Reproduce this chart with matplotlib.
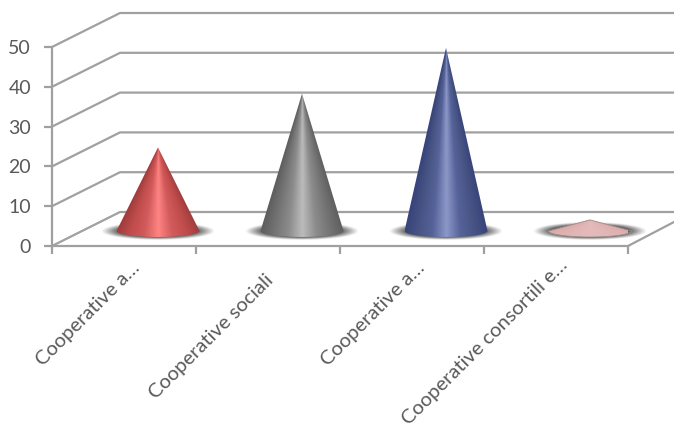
import numpy as np
import matplotlib
matplotlib.use("Agg")
import matplotlib.pyplot as plt
from matplotlib.colors import LinearSegmentedColormap
from matplotlib.patches import Polygon
from matplotlib.transforms import ScaledTranslation

categories = ["Cooperative a…", "Cooperative sociali", "Cooperative a…", "Cooperative consortili e…"]
values = [21, 34.5, 46, 2.8]
y_ticks = [0, 10, 20, 30, 40, 50]
ramps = [
    ["#a03c3c", "#c04c4c", "#d25a5a", "#ff8484", "#d25a5a", "#c04c4c", "#a03c3c"],
    ["#5e5e5e", "#747474", "#8c8c8c", "#bcbcbc", "#8c8c8c", "#747474", "#5e5e5e"],
    ["#38447a", "#475484", "#56639a", "#8c98c8", "#56639a", "#475484", "#38447a"],
    ["#d8a8a8", "#deb0b0", "#e2b6b6", "#e4baba", "#e2b6b6", "#deb0b0", "#d8a8a8"],
]
label_shift_px = [(7, 9), (-3, -3), (4, 9), (3, 12)]

W, H = 674, 429
L, R, T, B = 52, 628, 47, 246
plt.rcParams["font.family"] = ["Lato", "DejaVu Sans"]
fig = plt.figure(figsize=(W / 100, H / 100), dpi=100)
ax = fig.add_axes([L / W, 1 - B / H, (R - L) / W, (B - T) / H])
ax.set_xlim(0, 4)
ax.set_ylim(0, 50)
ax.patch.set_alpha(0)

ux = (R - L) / 4
uy = (B - T) / 50
dx, dy = 68 / ux, 34 / uy
GRID = "#a0a0a0"
TXT = "#595959"
xmax = (W - L) / ux

for v in y_ticks:
    ax.plot([0, dx, xmax], [v, v + dy, v + dy],
            color=GRID, lw=1.6, clip_on=False, zorder=1, solid_capstyle="butt")
ax.plot([4, 4 + 46 / ux], [0, 24 / uy], color=GRID, lw=1.6, clip_on=False, zorder=1)

for s in ["top", "right"]:
    ax.spines[s].set_visible(False)
for s in ["left", "bottom"]:
    ax.spines[s].set_color(GRID)
    ax.spines[s].set_linewidth(1.6)
    ax.spines[s].set_zorder(2)

ax.set_yticks(y_ticks)
ax.set_xticks(range(5))
ax.set_xticklabels([])
ax.tick_params(axis="both", which="major", color=GRID, width=1.6, length=6, labelcolor=TXT, labelsize=14)
ax.tick_params(axis="y", pad=9)
ax.set_xticks(np.arange(4) + 0.5, minor=True)
ax.set_xticklabels(categories, minor=True, rotation=45, ha="right", rotation_mode="anchor",
                   color=TXT, fontsize=14.5)
ax.tick_params(axis="x", which="minor", length=0, pad=16)
for lab, (sx_px, sy_px) in zip(ax.get_xticklabels(minor=True), label_shift_px):
    lab.set_transform(lab.get_transform() + ScaledTranslation(sx_px / 100, sy_px / 100, fig.dpi_scale_trans))

half_w = 41.5 / ux
ell_h = 6 / uy
base_y = 15 / uy
off_x = 34 / ux
theta = np.linspace(np.pi, 2 * np.pi, 60)

sh_w, sh_h = 57 / ux, 9 / uy
SX, SY = np.meshgrid(np.linspace(-1, 1, 200), np.linspace(-1, 1, 60))
rad = np.sqrt(SX ** 2 + SY ** 2)
shadow = np.zeros(rad.shape + (4,))
shadow[..., :3] = 0.32
shadow[..., 3] = np.clip((1 - rad) / 0.30, 0, 1) * 0.9

for i, (val, ramp) in enumerate(zip(values, ramps)):
    cx = i + 0.5 + off_x
    ax.imshow(shadow, extent=[cx - sh_w, cx + sh_w, base_y - sh_h, base_y + sh_h],
              aspect="auto", origin="lower", zorder=3, interpolation="bilinear", clip_on=False)
    cmap = LinearSegmentedColormap.from_list(f"c{i}", ramp)
    outline = [(cx, base_y + val)] + [
        (cx + half_w * np.cos(t), base_y + ell_h * np.sin(t)) for t in theta
    ]
    poly = Polygon(outline, closed=True, transform=ax.transData,
                   facecolor="none", edgecolor="#a08c8c" if i == 3 else "none",
                   lw=0.6, zorder=5, clip_on=False)
    ax.add_patch(poly)
    y0, y1 = base_y - ell_h - 0.2, base_y + val
    X, Y = np.meshgrid(np.linspace(-half_w, half_w, 300), np.linspace(y0, y1, 300))
    width = np.maximum((base_y + val - Y) / val, 1e-3) * half_w
    frac = np.clip((X / width + 1) / 2, 0, 1)
    im = ax.imshow(frac, cmap=cmap, vmin=0, vmax=1, origin="lower",
                   extent=[cx - half_w, cx + half_w, y0, y1],
                   aspect="auto", zorder=4, interpolation="bilinear", clip_on=True)
    im.set_clip_path(poly)

ax.set_xlim(0, 4)
ax.set_ylim(0, 50)
fig.savefig("out.png", dpi=100)
